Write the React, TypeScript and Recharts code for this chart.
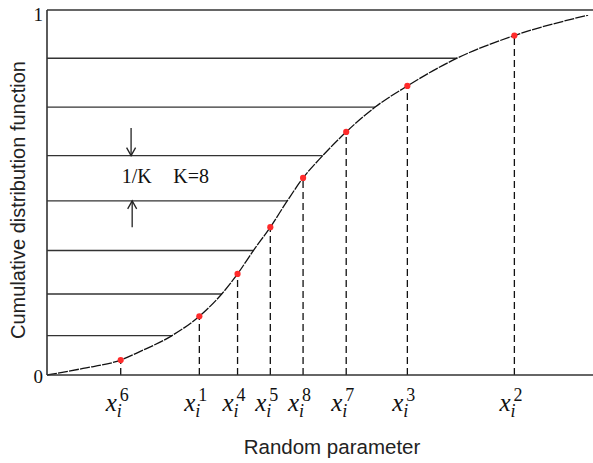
import React from 'react';
import { ComposedChart, Line, Scatter, XAxis, YAxis, ReferenceLine, ReferenceDot } from 'recharts';

// smooth CDF curve
const curveX = [0, 0.66, 1.35, 1.7, 2.29, 2.79, 3.2, 3.49, 3.78, 4.09, 4.4, 4.69, 5.05, 5.48, 6.01, 6.6, 7.51, 8.56, 9.91];
const curveY = [0, 0.018, 0.041, 0.064, 0.108, 0.161, 0.222, 0.277, 0.341, 0.405, 0.477, 0.54, 0.601, 0.666, 0.734, 0.792, 0.868, 0.93, 0.986];

// sampled points x_i^k
const pointSup = ['6', '1', '4', '5', '8', '7', '3', '2'];
const pointX = [1.35, 2.79, 3.49, 4.09, 4.69, 5.48, 6.6, 8.56];
const pointY = [0.041, 0.161, 0.277, 0.405, 0.54, 0.666, 0.792, 0.93];

// horizontal K-levels and where they meet the curve
const levels = [0.108, 0.222, 0.341, 0.477, 0.601, 0.734, 0.868];
const levelEnds = [2.29, 3.2, 3.78, 4.4, 5.05, 6.01, 7.51];

const yTicks = [0, 1];

const curve = curveX.map((x, i) => ({ x, y: curveY[i] }));
const points = pointX.map((x, i) => ({ x, y: pointY[i], sup: pointSup[i] }));

const serif = '"Liberation Serif", "Times New Roman", serif';
const sans = '"Liberation Sans", Arial, sans-serif';

const XTick = (props: any) => {
  const { x, y, payload } = props;
  const idx = pointX.indexOf(payload.value);
  const sup = idx >= 0 ? pointSup[idx] : '';
  return (
    <text x={x - 15} y={y + 35.5} fill="#111" fontFamily={serif} fontSize={25}>
      <tspan fontStyle="italic">x</tspan>
      <tspan x={x - 1} y={y + 26} fontSize={18}>{sup}</tspan>
      <tspan x={x - 4} y={y + 41.5} fontSize={18} fontStyle="italic">i</tspan>
    </text>
  );
};

const YTick = (props: any) => {
  const { x, y, payload } = props;
  return (
    <text x={x} y={y + (payload.value === 1 ? 4.5 : 1)} dy="0.35em" textAnchor="end" fontSize={19} fontFamily={serif} fill="#111">
      {payload.value}
    </text>
  );
};

const XTitle = (props: any) => {
  const vb = props.viewBox || { x: 47, y: 375, width: 546, height: 88 };
  return (
    <text x={vb.x + vb.width / 2 + 12} y={vb.y + 79} textAnchor="middle" fontSize={20.5} fontFamily={sans} fill="#222">
      Random parameter
    </text>
  );
};

const YTitle = (props: any) => {
  const vb = props.viewBox || { x: 0, y: 10, width: 47, height: 365 };
  const cx = vb.x + 17.5;
  const cy = vb.y + vb.height / 2 + 7.5;
  return (
    <text transform={`translate(${cx},${cy}) rotate(-90)`} textAnchor="middle" dominantBaseline="central" fontSize={20} fontFamily={sans} fill="#222">
      Cumulative distribution function
    </text>
  );
};

const Arrow = (props: any) => {
  const { x1, y1, x2, y2 } = props;
  const dir = y2 > y1 ? 1 : -1;
  return (
    <g stroke="#222" strokeWidth={1.3} fill="none">
      <line x1={x1} y1={y1} x2={x2} y2={y2} />
      <polyline points={`${x2 - 4.5},${y2 - dir * 8} ${x2},${y2} ${x2 + 4.5},${y2 - dir * 8}`} />
    </g>
  );
};

const KText = (props: any) => {
  const { cx, cy } = props;
  return (
    <g fontFamily={serif} fontSize={20} fill="#111">
      <text x={cx} y={cy}>1/K</text>
      <text x={cx + 51.5} y={cy}>K=8</text>
    </g>
  );
};

const RedDot = (props: any) => {
  const { cx, cy } = props;
  return <circle cx={cx} cy={cy} r={3.1} fill="#ff2b2b" />;
};

export default function App() {
  return (
    <div style={{ position: 'absolute', left: 0, top: 0, width: 593, height: 463, background: '#fff' }}>
      <ComposedChart width={593} height={463} margin={{ top: 10, right: 0, bottom: 0, left: 0 }}>
        <XAxis
          type="number"
          dataKey="x"
          domain={[0, 10]}
          ticks={pointX}
          tick={<XTick />}
          tickLine={false}
          tickSize={0}
          tickMargin={0}
          height={88}
          interval={0}
          axisLine={{ stroke: '#333', strokeWidth: 1.6 }}
          label={{ content: (p: any) => <XTitle {...p} /> }}
        />
        <YAxis
          type="number"
          domain={[0, 1]}
          ticks={yTicks}
          tick={<YTick />}
          tickLine={false}
          tickSize={0}
          tickMargin={4}
          width={47}
          axisLine={{ stroke: '#333', strokeWidth: 1.6 }}
          label={{ content: (p: any) => <YTitle {...p} /> }}
        />
        <ReferenceLine y={1} stroke="#333" strokeWidth={1.5} />
        {levels.map((lv, i) => (
          <ReferenceLine
            key={'h' + i}
            segment={[{ x: 0, y: lv }, { x: levelEnds[i], y: lv }]}
            stroke="#333"
            strokeWidth={1.4}
          />
        ))}
        {points.map((p, i) => (
          <ReferenceLine
            key={'v' + i}
            segment={[{ x: p.x, y: 0 }, { x: p.x, y: p.y }]}
            stroke="#111"
            strokeWidth={1.3}
            strokeDasharray="7 4"
          />
        ))}
        <ReferenceLine segment={[{ x: 1.54, y: 0.677 }, { x: 1.54, y: levels[4] }]} shape={<Arrow />} />
        <ReferenceLine segment={[{ x: 1.56, y: 0.405 }, { x: 1.56, y: levels[3] }]} shape={<Arrow />} />
        <ReferenceDot x={1.37} y={0.525} r={0} shape={<KText />} />
        <Line
          data={curve}
          dataKey="y"
          type="monotone"
          stroke="#111"
          strokeWidth={1.3}
          strokeDasharray="10 1.2"
          dot={false}
          activeDot={false}
          isAnimationActive={false}
        />
        <Scatter data={points} dataKey="y" shape={<RedDot />} isAnimationActive={false} />
      </ComposedChart>
    </div>
  );
}
